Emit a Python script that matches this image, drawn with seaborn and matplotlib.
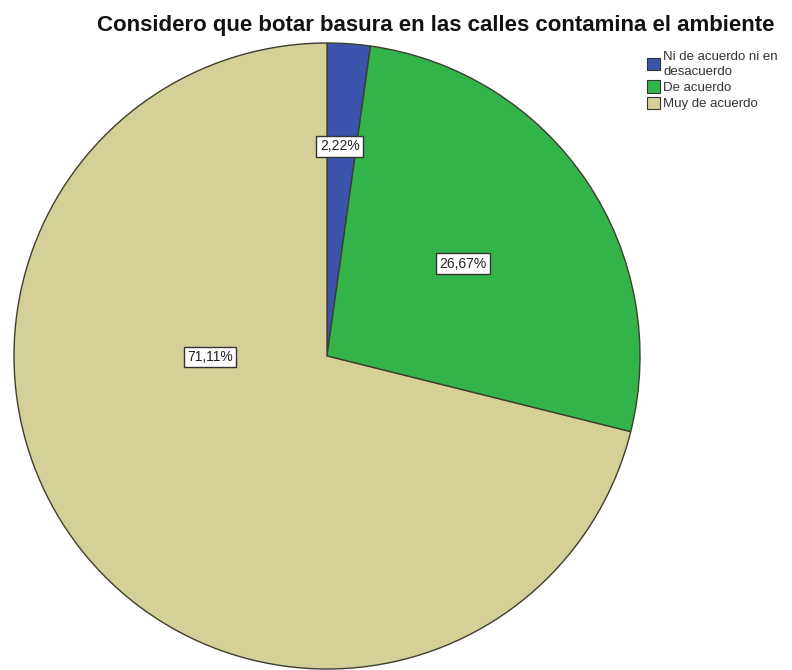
import matplotlib
matplotlib.use("Agg")
import matplotlib.pyplot as plt
import seaborn as sns
import numpy as np

categories = ["Ni de acuerdo ni en\ndesacuerdo", "De acuerdo", "Muy de acuerdo"]
percentages = [2.22, 26.67, 71.11]
slice_colors = ["#3b55ad", "#32b44a", "#d5cf98"]
# label placement (radius as fraction of pie radius, angle in degrees)
label_radius = [0.672, 0.525, 0.374]
label_angle = [86.5, 34.1, 180.5]

sns.set_theme(style="white")
plt.rcParams["font.family"] = ["Liberation Sans", "DejaVu Sans"]

W, H = 792, 670
fig = plt.figure(figsize=(W / 100, H / 100), dpi=100)
fig.patch.set_facecolor("white")

cx, cy, r = 327, 356, 313
ax = fig.add_axes([(cx - r) / W, (H - cy - r) / H, 2 * r / W, 2 * r / H])

wedges, _ = ax.pie(
    percentages,
    colors=slice_colors,
    startangle=90,
    counterclock=False,
    radius=1.0,
    wedgeprops=dict(edgecolor="#3e3e30", linewidth=1.0),
)
ax.set_xlim(-1, 1)
ax.set_ylim(-1, 1)
ax.set_aspect("equal")
ax.axis("off")

for p, rr, ang in zip(percentages, label_radius, label_angle):
    t = np.deg2rad(ang)
    ax.text(rr * np.cos(t), rr * np.sin(t), f"{p:.2f}%".replace(".", ","),
            ha="center", va="center", fontsize=10, color="#222222",
            bbox=dict(boxstyle="square,pad=0.25", facecolor="white",
                      edgecolor="#333333", linewidth=1.0))

fig.text(436 / W, 1 - 25 / H, "Considero que botar basura en las calles contamina el ambiente",
         ha="center", va="center", fontsize=16, fontweight="bold", color="#111111")

leg = fig.legend(wedges, categories, loc="upper left",
                 bbox_to_anchor=(640 / W, 1 - 44 / H), frameon=False,
                 fontsize=9.5, handlelength=1.05, handleheight=1.05,
                 handletextpad=0.2, labelspacing=0.2, borderpad=0)
for t in leg.get_texts():
    t.set_color("#333333")
    t.set_linespacing(1.35)
for h in leg.legend_handles:
    h.set_edgecolor("#333333")
    h.set_linewidth(0.8)

fig.savefig("out.png", dpi=100, facecolor="white")
